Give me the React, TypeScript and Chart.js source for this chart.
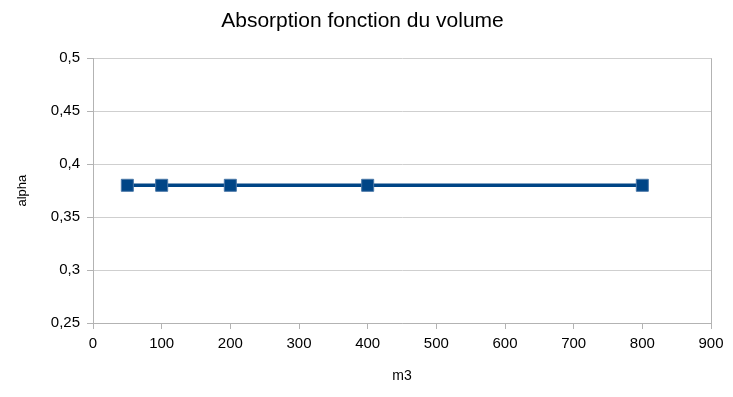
import React, { useEffect, useRef } from "react";
import { Chart, registerables } from "chart.js";

Chart.register(...registerables);

const volumes = [50, 100, 200, 400, 800];
const alphaValues = [0.38, 0.38, 0.38, 0.38, 0.38];
const chartTitle = "Absorption fonction du volume";
const xTitle = "m3";
const yTitle = "alpha";

export default function App() {
  const ref = useRef<HTMLCanvasElement | null>(null);
  useEffect(() => {
    if (!ref.current) return;
    const font = "'Liberation Sans', Arial, sans-serif";
    const axisGray = "#b3b3b3";
    const gridGray = "#cfcfcf";
    const chart = new Chart(ref.current, {
      type: "line",
      data: {
        datasets: [
          {
            data: volumes.map((v, i) => ({ x: v, y: alphaValues[i] })),
            borderColor: "#004586",
            backgroundColor: "#004586",
            pointBackgroundColor: "#004586",
            pointBorderColor: "#4a78a8",
            pointBorderWidth: 1,
            borderWidth: 3.5,
            pointStyle: "rect",
            pointRadius: 8.5,
            tension: 0,
          },
        ],
      },
      options: {
        animation: false,
        responsive: false,
        layout: { padding: { left: 0, right: 8, top: 0, bottom: 0 } },
        plugins: {
          legend: { display: false },
          tooltip: { enabled: false },
          title: {
            display: true,
            text: chartTitle,
            color: "#000",
            font: { family: font, size: 21, weight: "normal" },
            padding: { top: 9, bottom: 24 },
          },
        },
        scales: {
          x: {
            type: "linear",
            min: 0,
            max: 900,
            ticks: {
              stepSize: 100,
              color: "#000",
              font: { family: font, size: 15 },
              padding: 6,
              maxRotation: 0,
            },
            grid: {
              color: (ctx: any) => (ctx.tick && ctx.tick.value === 900 ? axisGray : "rgba(0,0,0,0)"),
              tickColor: axisGray,
              tickLength: 6,
              drawTicks: true,
            },
            border: { color: axisGray },
            title: {
              display: true,
              text: xTitle,
              color: "#000",
              font: { family: font, size: 14 },
              padding: { top: 0, bottom: 12 },
            },
            afterFit: (s: any) => {
              s.height = 397 - 323;
              s.paddingRight = 22;
            },
          },
          y: {
            type: "linear",
            min: 0.25,
            max: 0.5,
            ticks: {
              stepSize: 0.05,
              color: "#000",
              font: { family: font, size: 15 },
              padding: 7,
              callback: (v: any) => Number(Number(v).toFixed(2)).toString().replace(".", ","),
            },
            grid: { color: gridGray, tickColor: axisGray, tickLength: 6 },
            border: { color: axisGray },
            title: {
              display: true,
              text: yTitle,
              color: "#000",
              font: { family: font, size: 13 },
              padding: { top: 15, bottom: 0 },
            },
            afterFit: (s: any) => {
              s.width = 93;
            },
          },
        },
      },
    });
    return () => chart.destroy();
  }, []);
  return (
    <div style={{ position: "fixed", left: 0, top: 0, width: 733, height: 397, background: "#fff" }}>
      <canvas ref={ref} width={733} height={397} />
    </div>
  );
}
